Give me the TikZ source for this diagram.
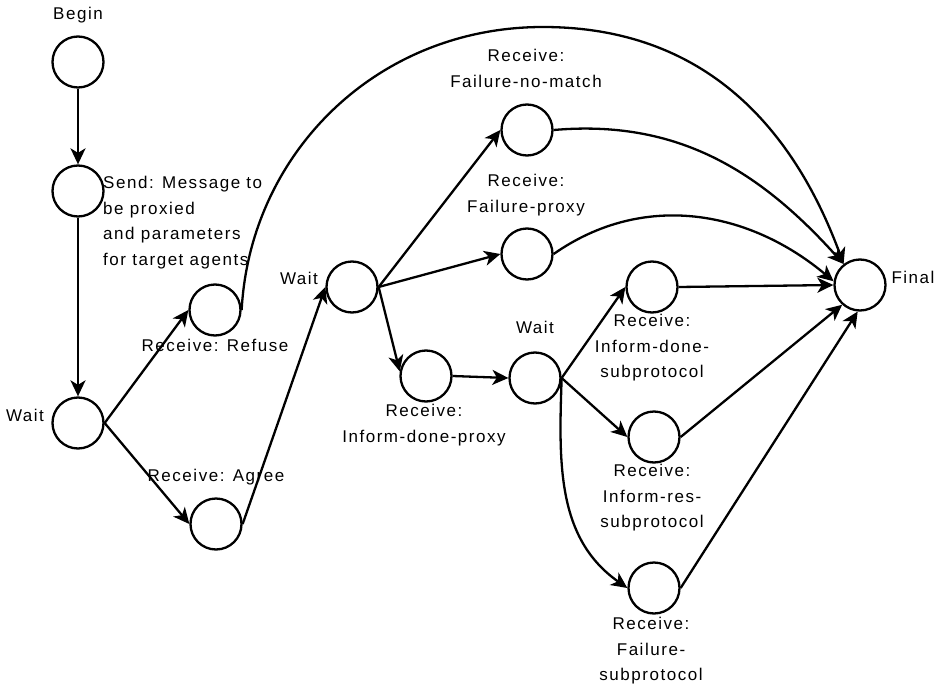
\documentclass[tikz,border=0pt]{standalone}
\usepackage{fontspec}
\setmainfont{Liberation Sans}[LetterSpace=9]
\usetikzlibrary{arrows.meta}
\begin{document}
\begin{tikzpicture}[x=1pt,y=-1pt,
  state/.style={circle,draw,line width=2.3pt,minimum size=51pt,inner sep=0pt},
  lbl/.style={inner sep=0pt,font=\fontsize{17}{25.5}\selectfont,align=center,anchor=north},
  arr/.style={line width=2.3pt,-{Stealth[length=16pt,width=15pt,inset=4.5pt]}}]
\useasboundingbox (0,0) rectangle (940,688);
% states
\node[state] (begin) at (78,62) {};
\node[state] (send) at (78,191) {};
\node[state] (wait1) at (78,423) {};
\node[state] (refuse) at (215,310) {};
\node[state] (agree) at (216,524) {};
\node[state] (wait2) at (352,287) {};
\node[state] (fnm) at (527,130) {};
\node[state] (fp) at (527,254) {};
\node[state] (idp) at (426,376) {};
\node[state] (wait3) at (535,378) {};
\node[state] (ids) at (652,287) {};
\node[state] (irs) at (654,437) {};
\node[state] (fs) at (654,588) {};
\node[state] (final) at (860,285) {};
% labels
\node[lbl] (lbegin) at (78,7) {Begin};
\node[lbl,anchor=north west,align=left] (lsend) at (103,176) {Send: Message to\\be proxied\\and parameters\\for target agents};
\node[lbl] (lwait1) at (25,409) {Wait};
\node[lbl] (lrefuse) at (215,339) {Receive: Refuse};
\node[lbl] (lagree) at (216,469) {Receive: Agree};
\node[lbl] (lwait2) at (299,272) {Wait};
\node[lbl] (lfnm) at (526,49) {Receive:\\Failure-no-match};
\node[lbl] (lfp) at (526,174) {Receive:\\Failure-proxy};
\node[lbl] (lidp) at (424,404) {Receive:\\Inform-done-proxy};
\node[lbl] (lwait3) at (535,321) {Wait};
\node[lbl] (lids) at (652,314) {Receive:\\Inform-done-\\subprotocol};
\node[lbl] (lirs) at (652,464) {Receive:\\Inform-res-\\subprotocol};
\node[lbl] (lfs) at (651,617) {Receive:\\Failure-\\subprotocol};
\node[lbl] (lfinal) at (913,271) {Final};
% connectors
\draw[arr] (begin) -- (send);
\draw[arr] (send) -- (wait1);
\draw[arr] (wait1.east) -- (refuse.west);
\draw[arr] (wait1.east) -- (agree.west);
\draw[arr] (agree.east) -- (wait2.west);
\draw[arr] (refuse.east) .. controls (250,154) and (376,27) .. (543,27) .. controls (708,27) and (795,132) .. (final.128);
\draw[arr] (wait2.east) -- (fnm.west);
\draw[arr] (wait2.east) -- (fp.west);
\draw[arr] (wait2.east) -- (idp.170);
\draw[arr] (idp.east) -- (wait3.west);
\draw[arr] (wait3.east) -- (ids.west);
\draw[arr] (wait3.east) -- (irs.west);
\draw[arr] (wait3.east) to[out=-92,in=145] (fs.west);
\draw[arr] (fnm.east) to[out=5,in=132] (final.128);
\draw[arr] (fp.east) to[out=35,in=140] (final.172);
\draw[arr] (ids.east) -- (final.west);
\draw[arr] (irs.east) -- (final.228);
\draw[arr] (fs.east) -- (final.265);
\end{tikzpicture}
\end{document}
